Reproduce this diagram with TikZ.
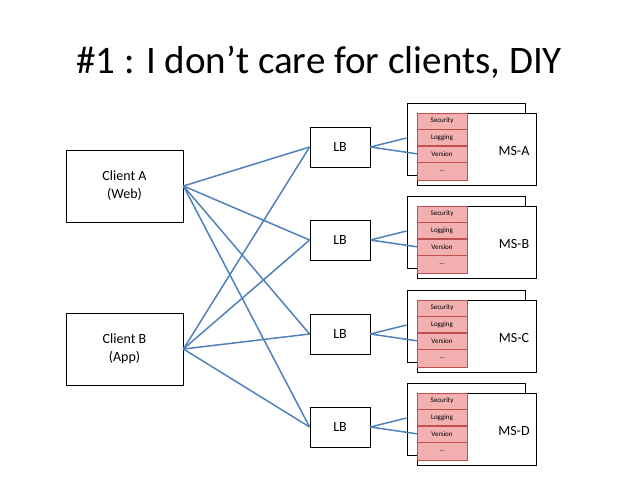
\documentclass[tikz,border=0pt]{standalone}
\usepackage{fontspec}
\setmainfont{Carlito}
\usetikzlibrary{positioning}
\definecolor{linkblue}{RGB}{79,129,189}
\definecolor{cellfill}{RGB}{242,176,176}
\definecolor{celldraw}{RGB}{192,80,77}
\begin{document}
\begin{tikzpicture}[x=1pt,y=-1pt,
            box/.style={draw=black,fill=white,thick,inner sep=0pt,align=center,font=\fontsize{14}{18}\selectfont},
            cell/.style={draw=celldraw,fill=cellfill,minimum width=50pt,minimum height=16pt,inner sep=0pt,font=\fontsize{7}{8}\selectfont},
            link/.style={linkblue,line width=1.5pt},
            ]
            \useasboundingbox (0,0) rectangle (638,479);
            \node at (319,62) {\fontsize{39}{44}\selectfont \#1 : I don’t care for clients, DIY};

            \node[box,minimum width=117pt,minimum height=72pt] (ca) at (124.5,186) {Client A\\(Web)};
            \node[box,minimum width=117pt,minimum height=72pt] (cb) at (124.5,349) {Client B\\(App)};

            \foreach \n/\y/\t in {1/103/A,2/196/B,3/290/C,4/383/D}{
                \node[box,minimum width=60pt,minimum height=40pt] (lb\n) at (340,\y+44) {LB};
                \node[box,minimum width=118pt,minimum height=72pt] (back\n) at (466,\y+36) {};
                \node[box,minimum width=119pt,minimum height=72pt] (front\n) at (476.5,\y+46) {};
                \node[font=\fontsize{14}{18}\selectfont] at (514,\y+48) {MS-\t};
                \node[cell] (sec\n) at (442,\y+18) {Security};
                \node[cell,below=0pt of sec\n] (log\n) {Logging};
                \node[cell,below=0pt of log\n] (ver\n) {Version};
                \node[cell,below=0pt of ver\n,minimum height=18pt] (etc\n) {...};
                \draw[link] (lb\n.east) -- (back\n.west |- 0,\y+35);
                \draw[link] (lb\n.east) -- (ver\n.west);
                \draw[link] (ca.east) -- (lb\n.west);
                \draw[link] (cb.east) -- (lb\n.west);
            }
        \end{tikzpicture}
\end{document}
